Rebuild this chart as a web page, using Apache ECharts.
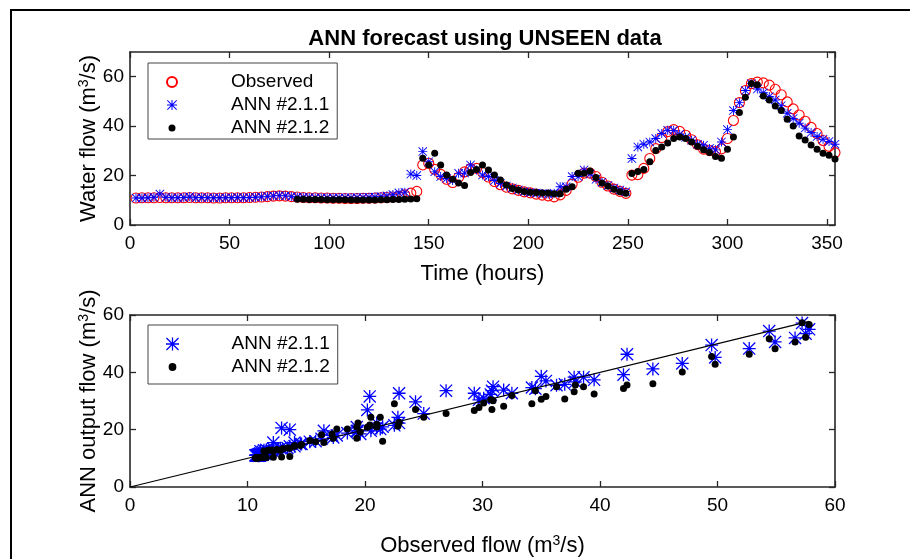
<!DOCTYPE html>
<html>
<head>
<meta charset="utf-8">
<script src="https://cdn.jsdelivr.net/npm/echarts@6/dist/echarts.min.js"></script>
<style>html,body{margin:0;padding:0;background:#fff}#c{width:910px;height:559px}</style>
</head>
<body>
<div id="c"></div>
<script>
// ---- data ----
const time = [3,6,9,12,15,18,21,24,27,30,33,36,39,42,45,48,51,54,57,60,63,66,69,72,75,78,81,84,87,90,93,96,99,102,105,108,111,114,117,120,123,126,129,132,135,138,141,144,147,150,153,156,159,162,165,168,171,174,177,180,183,186,189,192,195,198,201,204,207,210,213,216,219,222,225,228,231,234,237,240,243,246,249,252,255,258,261,264,267,270,273,276,279,282,285,288,291,294,297,300,303,306,309,312,315,318,321,324,327,330,333,336,339,342,345,348,351,354];
const observed = [10.9,11.0,11.0,11.0,11.1,11.0,11.0,11.0,11.0,11.1,11.0,11.0,11.0,10.9,10.9,11.0,11.0,11.0,11.0,11.1,11.2,11.3,11.5,11.7,11.8,11.7,11.5,11.3,11.1,11.0,11.0,10.9,10.9,10.8,10.8,10.7,10.7,10.7,10.8,10.8,10.9,11.0,11.1,11.3,11.6,12.2,12.9,13.6,24.3,25.0,22.5,20.5,18.5,17.2,19.3,21.5,22.8,22.9,21.3,19.4,17.6,16.3,15.3,14.6,14.0,13.4,13.0,12.5,12.1,11.8,11.4,12.2,14.0,16.5,19.3,21.0,21.0,19.6,17.3,15.8,14.5,13.6,12.8,20.2,20.4,22.9,26.9,30.9,35.4,37.8,38.6,37.9,36.3,34.5,32.5,30.7,30.1,29.7,30.8,35.0,42.3,49.5,54.4,57.2,57.8,57.5,56.6,54.9,52.7,49.8,47.0,44.5,42.0,39.5,37.0,34.2,31.8,29.3];
const ann211 = [10.9,10.9,11.0,11.2,12.5,11.2,11.0,11.0,11.1,11.4,11.0,11.1,11.0,11.0,11.0,11.0,11.0,11.1,11.0,11.1,11.2,11.4,11.6,11.8,11.9,11.8,11.5,11.3,11.2,11.1,11.0,11.0,11.0,11.0,11.0,11.0,11.0,11.1,11.1,11.2,11.3,11.5,11.8,12.3,13.0,13.3,20.6,20.0,29.7,25.6,21.5,19.6,18.8,18.0,20.9,21.0,24.3,22.3,20.2,19.6,18.0,16.8,15.8,15.0,14.2,13.6,13.2,12.9,12.7,12.5,12.8,15.5,15.5,19.6,19.6,22.3,20.6,18.5,17.3,16.0,15.0,14.2,13.5,26.9,31.6,32.7,33.6,35.0,37.0,38.3,38.3,36.7,35.5,34.3,32.7,32.3,31.0,30.4,33.6,38.6,46.3,49.5,54.4,57.2,55.0,53.5,52.0,50.6,48.3,45.2,43.1,41.2,39.2,37.4,35.8,34.7,33.8,32.7];
const ann212 = [null,null,null,null,null,null,null,null,null,null,null,null,null,null,null,null,null,null,null,null,null,null,null,null,null,null,null,10.4,10.4,10.3,10.3,10.3,10.2,10.2,10.2,10.2,10.1,10.1,10.1,10.1,10.1,10.2,10.2,10.3,10.3,10.4,10.5,10.6,27.0,24.3,29.0,24.3,20.2,18.5,17.0,16.0,21.2,22.5,24.3,22.3,20.2,18.2,16.2,14.8,14.2,13.6,13.3,13.1,12.9,12.9,12.6,12.6,14.5,15.5,20.9,20.9,21.9,19.2,17.0,15.8,14.5,13.5,12.8,20.8,21.6,22.5,25.6,30.1,31.6,33.2,35.0,35.6,35.0,33.6,31.9,30.4,29.3,27.7,27.0,30.6,35.6,45.5,51.7,57.3,56.7,52.2,50.6,48.2,46.3,42.8,40.1,36.0,34.4,32.4,30.7,29.0,28.2,26.7];
const seriesNames = ['Observed', 'ANN #2.1.1', 'ANN #2.1.2'];
const titleText = 'ANN forecast using UNSEEN data';
const topXTicks = [0, 50, 100, 150, 200, 250, 300, 350];
const topYTicks = [0, 20, 40, 60];
const botXTicks = [0, 10, 20, 30, 40, 50, 60];
const botYTicks = [0, 20, 40, 60];

// ---- build ----
const FONT = "'Liberation Sans', Arial, Helvetica, sans-serif";
const AX = '#262626';
const STAR = 'path://M0 9L20 9L20 11L0 11Z M9 0L11 0L11 20L9 20Z M1.4 0L20 18.6L18.6 20L0 1.4Z M18.6 0L20 1.4L1.4 20L0 18.6Z';
const dotIcon = r => 'path://M0 0M20 20M' + (10 + r) + ' 10A' + r + ' ' + r + ' 0 1 1 ' + (10 - r) + ' 10A' + r + ' ' + r + ' 0 1 1 ' + (10 + r) + ' 10Z';

const pairs = a => time.map((t, i) => a[i] == null ? null : [t, a[i]]).filter(p => p);
const scat = a => observed.map((o, i) => a[i] == null ? null : [o, a[i]]).filter(p => p);
const maxObs = Math.max.apply(null, observed);

function mainAxis(gridIndex, min, max, interval, name, pos, isY, nameGap) {
  return {
    type: 'value', gridIndex, min, max, interval, position: pos,
    name, nameLocation: 'middle', nameGap, nameMoveOverlap: !isY,
    nameTextStyle: { fontFamily: FONT, fontSize: 22, color: '#000', rich: { sup: { fontFamily: FONT, fontSize: 14, color: '#000', padding: [0, 0, 10, 0] } } },
    axisLine: { show: true, onZero: false, lineStyle: { color: AX, width: 1.6 } },
    axisTick: { show: true, inside: true, length: 6, lineStyle: { color: AX, width: 1.3 } },
    axisLabel: { show: true, fontFamily: FONT, fontSize: 19, color: '#000', margin: isY ? 6 : 9, showMaxLabel: (max % interval === 0), showMinLabel: true },
    splitLine: { show: false }
  };
}
function mirrorAxis(gridIndex, min, max, interval, pos) {
  return {
    type: 'value', gridIndex, min, max, interval, position: pos,
    axisLine: { show: true, onZero: false, lineStyle: { color: AX, width: 1.6 } },
    axisTick: { show: true, inside: true, length: 6, lineStyle: { color: AX, width: 1.3 } },
    axisLabel: { show: false }, splitLine: { show: false }
  };
}
const legendBase = {
  orient: 'vertical', itemWidth: 40, itemHeight: 10, itemGap: 3,
  padding: [9, 8, 1, 18],
  borderColor: '#444', borderWidth: 1, backgroundColor: '#fff',
  textStyle: { fontFamily: FONT, fontSize: 19, color: '#000', lineHeight: 20, padding: [0, 0, 0, 34] }
};

const option = {
  animation: false,
  backgroundColor: '#fff',
  textStyle: { fontFamily: FONT },
  title: {
    text: titleText, left: 480, top: 23, textAlign: 'center',
    textStyle: { fontFamily: FONT, fontSize: 22, fontWeight: 'bold', color: '#000' }
  },
  graphic: [{ type: 'rect', shape: { x: 11, y: 10, width: 1200, height: 1200 }, style: { fill: 'none', stroke: '#000', lineWidth: 2 }, z: 100 }],
  grid: [
    { left: 130, top: 52, width: 705, height: 173 },
    { left: 130, top: 315, width: 705, height: 172 }
  ],
  xAxis: [
    mainAxis(0, 0, 354, 50, 'Time (hours)', 'bottom', false, 38),
    mainAxis(1, 0, 60, 10, 'Observed flow (m{sup|3}/s)', 'bottom', false, 47),
    mirrorAxis(0, 0, 354, 50, 'top'),
    mirrorAxis(1, 0, 60, 10, 'top')
  ],
  yAxis: [
    mainAxis(0, 0, 70, 20, 'Water flow (m{sup|3}/s)', 'left', true, 29),
    mainAxis(1, 0, 60, 20, 'ANN output flow (m{sup|3}/s)', 'left', true, 29),
    mirrorAxis(0, 0, 70, 20, 'right'),
    mirrorAxis(1, 0, 60, 20, 'right')
  ],
  legend: [
    Object.assign({}, legendBase, {
      data: [
        { name: seriesNames[0] },
        { name: seriesNames[1] },
        { name: seriesNames[2], icon: dotIcon(7) }
      ],
      left: 148, top: 63
    }),
    Object.assign({}, legendBase, {
      data: [
        { name: 'ANN #2.1.1 ', icon: STAR, itemStyle: { color: '#0000ff', opacity: 1 } },
        { name: 'ANN #2.1.2 ', icon: dotIcon(6) }
      ],
      formatter: n => n.trim(), left: 148, top: 325, itemHeight: 13,
      padding: [9, 8, 7, 18]
    })
  ],
  series: [
    {
      name: seriesNames[0], type: 'scatter', xAxisIndex: 0, yAxisIndex: 0,
      data: pairs(observed), symbol: 'circle', symbolSize: 10,
      itemStyle: { color: 'rgba(0,0,0,0)', borderColor: '#ff0000', borderWidth: 1.1, opacity: 1 }, z: 2
    },
    {
      name: seriesNames[1], type: 'scatter', xAxisIndex: 0, yAxisIndex: 0,
      data: pairs(ann211), symbol: STAR, symbolSize: 9,
      itemStyle: { color: '#0000ff', opacity: 1 }, z: 3
    },
    {
      name: seriesNames[2], type: 'scatter', xAxisIndex: 0, yAxisIndex: 0,
      data: pairs(ann212), symbol: 'circle', symbolSize: 7,
      itemStyle: { color: '#000', opacity: 1 }, z: 4
    },
    {
      name: 'ANN #2.1.1 ', type: 'scatter', xAxisIndex: 1, yAxisIndex: 1,
      data: scat(ann211), symbol: STAR, symbolSize: 13,
      itemStyle: { color: '#0000ff', opacity: 1 }, z: 3
    },
    {
      name: 'fit', type: 'line', xAxisIndex: 1, yAxisIndex: 1,
      data: [[0, 0], [maxObs, maxObs]], symbol: 'none',
      lineStyle: { color: '#000', width: 1.2 }, z: 4, silent: true
    },
    {
      name: 'ANN #2.1.2 ', type: 'scatter', xAxisIndex: 1, yAxisIndex: 1,
      data: scat(ann212), symbol: 'circle', symbolSize: 7,
      itemStyle: { color: '#000', opacity: 1 }, z: 5
    }
  ]
};
const chart = echarts.init(document.getElementById('c'), null, { renderer: 'canvas' });
chart.setOption(option);
</script>
</body>
</html>
